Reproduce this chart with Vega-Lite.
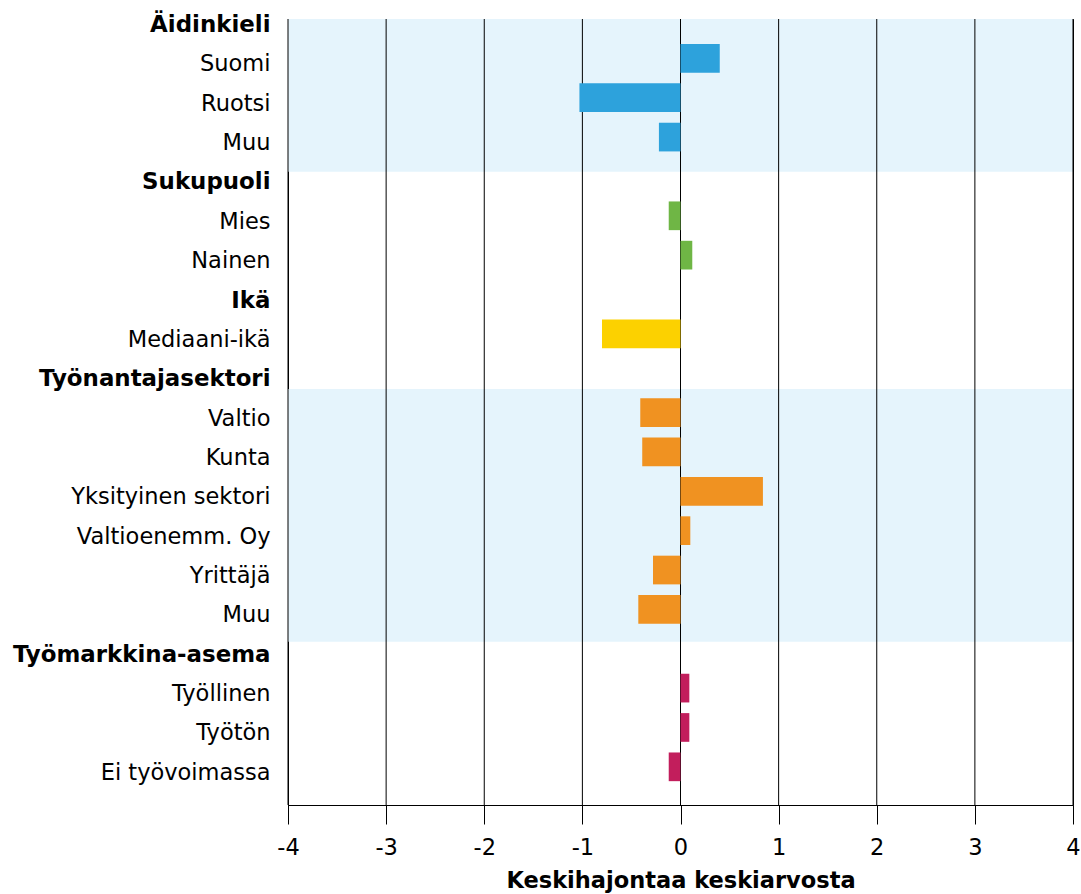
{
  "$schema": "https://vega.github.io/schema/vega-lite/v6.json",
  "width": 785,
  "height": 786,
  "autosize": "none",
  "padding": {"left": 288, "top": 19, "right": 8, "bottom": 89},
  "background": "white",
  "config": {
    "font": "DejaVu Sans",
    "view": {"stroke": "#000", "strokeWidth": 1}
  },
  "datasets": {
    "taustat": [
      {"alku": 0, "loppu": 3.88},
      {"alku": 9.40, "loppu": 15.82}
    ],
    "ruudukko": [
      {"arvo": -4}, {"arvo": -3}, {"arvo": -2}, {"arvo": -1}, {"arvo": 0},
      {"arvo": 1}, {"arvo": 2}, {"arvo": 3}, {"arvo": 4}
    ],
    "rivit": [
      {"avain": "a|Suomi", "ryhma": "Äidinkieli", "arvo": 0.40},
      {"avain": "a|Ruotsi", "ryhma": "Äidinkieli", "arvo": -1.03},
      {"avain": "a|Muu", "ryhma": "Äidinkieli", "arvo": -0.22},
      {"avain": "s|Mies", "ryhma": "Sukupuoli", "arvo": -0.12},
      {"avain": "s|Nainen", "ryhma": "Sukupuoli", "arvo": 0.12},
      {"avain": "i|Mediaani-ikä", "ryhma": "Ikä", "arvo": -0.80},
      {"avain": "t|Valtio", "ryhma": "Työnantajasektori", "arvo": -0.41},
      {"avain": "t|Kunta", "ryhma": "Työnantajasektori", "arvo": -0.39},
      {"avain": "t|Yksityinen sektori", "ryhma": "Työnantajasektori", "arvo": 0.84},
      {"avain": "t|Valtioenemm. Oy", "ryhma": "Työnantajasektori", "arvo": 0.10},
      {"avain": "t|Yrittäjä", "ryhma": "Työnantajasektori", "arvo": -0.28},
      {"avain": "t|Muu", "ryhma": "Työnantajasektori", "arvo": -0.43},
      {"avain": "m|Työllinen", "ryhma": "Työmarkkina-asema", "arvo": 0.09},
      {"avain": "m|Työtön", "ryhma": "Työmarkkina-asema", "arvo": 0.09},
      {"avain": "m|Ei työvoimassa", "ryhma": "Työmarkkina-asema", "arvo": -0.12}
    ]
  },
  "layer": [
    {
      "data": {"name": "taustat"},
      "mark": {"type": "rect", "color": "#e5f4fc"},
      "encoding": {
        "x": {"datum": -4, "type": "quantitative", "scale": {"domain": [-4, 4], "nice": false}, "title": "Keskihajontaa keskiarvosta"},
        "x2": {"datum": 4},
        "y": {"field": "alku", "type": "quantitative", "scale": {"domain": [0, 19.97], "reverse": true, "nice": false, "zero": false}, "axis": null},
        "y2": {"field": "loppu"}
      }
    },
    {
      "data": {"name": "ruudukko"},
      "mark": {"type": "rule", "color": "#000", "strokeWidth": 1},
      "encoding": {
        "x": {"field": "arvo", "type": "quantitative", "scale": {"domain": [-4, 4], "nice": false}, "title": "Keskihajontaa keskiarvosta"}
      }
    },
    {
      "data": {"name": "rivit"},
      "mark": {"type": "bar", "height": 28.7},
      "encoding": {
        "x": {
          "field": "arvo",
          "type": "quantitative",
          "scale": {"domain": [-4, 4], "nice": false},
          "title": "Keskihajontaa keskiarvosta",
          "axis": {
            "values": [-4, -3, -2, -1, 0, 1, 2, 3, 4],
            "labelExpr": "'' + datum.value",
            "labelFontSize": 22.5,
            "labelColor": "#000",
            "labelPadding": 12,
            "labelFlush": false,
            "labelOverlap": false,
            "tickSize": 19,
            "tickColor": "#000",
            "domainColor": "#000",
            "grid": false,
            "titleFontSize": 22.5,
            "titleFontWeight": "bold",
            "titleColor": "#000",
            "titlePadding": 11
          }
        },
        "y": {
          "field": "avain",
          "type": "ordinal",
          "scale": {
            "type": "point",
            "domain": [
              "H|Äidinkieli", "a|Suomi", "a|Ruotsi", "a|Muu",
              "H|Sukupuoli", "s|Mies", "s|Nainen",
              "H|Ikä", "i|Mediaani-ikä",
              "H|Työnantajasektori", "t|Valtio", "t|Kunta", "t|Yksityinen sektori", "t|Valtioenemm. Oy", "t|Yrittäjä", "t|Muu",
              "H|Työmarkkina-asema", "m|Työllinen", "m|Työtön", "m|Ei työvoimassa"
            ],
            "padding": 0.485,
            "align": 0
          },
          "axis": {
            "title": null,
            "ticks": false,
            "tickSize": 0,
            "domain": true,
            "domainColor": "#000",
            "grid": false,
            "labelPadding": 18,
            "labelLimit": 400,
            "labelColor": "#000",
            "labelOffset": 5.5,
            "labelExpr": "split(datum.value, '|')[1]",
            "labelFontSize": {"condition": {"test": "split(datum.value, '|')[0] == 'H'", "value": 22.9}, "value": 22.5},
            "labelFontWeight": {"condition": {"test": "split(datum.value, '|')[0] == 'H'", "value": "bold"}, "value": "normal"}
          }
        },
        "color": {
          "field": "ryhma",
          "type": "nominal",
          "scale": {
            "domain": ["Äidinkieli", "Sukupuoli", "Ikä", "Työnantajasektori", "Työmarkkina-asema"],
            "range": ["#2da2dc", "#6fb645", "#fcd100", "#f09221", "#c21e5c"]
          },
          "legend": null
        }
      }
    }
  ],
  "resolve": {"scale": {"y": "independent"}}
}
